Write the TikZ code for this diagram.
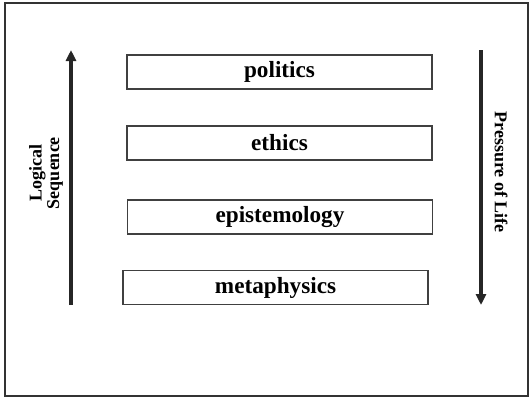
\documentclass[tikz,border=0pt]{standalone}
\usepackage{fontspec}
\setmainfont{Liberation Serif}
\usetikzlibrary{arrows.meta}

\begin{document}
\begin{tikzpicture}[x=0.5pt,y=-0.5pt]
    \tikzset{topic/.style={draw=black!75,line width=0.6pt,inner sep=0pt,
        minimum width=152.5pt,minimum height=17pt,font=\fontsize{11.6}{13}\selectfont\bfseries}}
    \tikzset{sidelabel/.style={align=center,inner sep=0pt,
        font=\fontsize{9}{8.8}\selectfont\bfseries}}
    \tikzset{flow/.style={line width=1.8pt,draw=black!85,-{Triangle[length=5.5pt,width=5pt]}}}
    \useasboundingbox (0,0) rectangle (530,398);
    \draw[line width=1pt,black!80] (5,3) rectangle (528,396);
    % the four layers
    \node[topic] (politics) at (279.5,72) {politics};
    \node[topic] (ethics) at (279.5,143) {ethics};
    \node[topic] (episteme) at (280,217) {epistemology};
    \node[topic] (metaphys) at (275.5,287.5) {metaphysics};
    % arrows
    \coordinate (lsBot) at (71,305);
    \coordinate (lsTop) at (71,50);
    \coordinate (plTop) at (481,50);
    \coordinate (plBot) at (481,305);
    \draw[flow] (lsBot) -- (lsTop);
    \draw[flow] (plTop) -- (plBot);
    \node[sidelabel,rotate=90] (logseq) at (46,173) {Logical\\Sequence};
    \node[sidelabel,rotate=-90] (presslife) at (501,172) {Pressure of Life};
\end{tikzpicture}
\end{document}
